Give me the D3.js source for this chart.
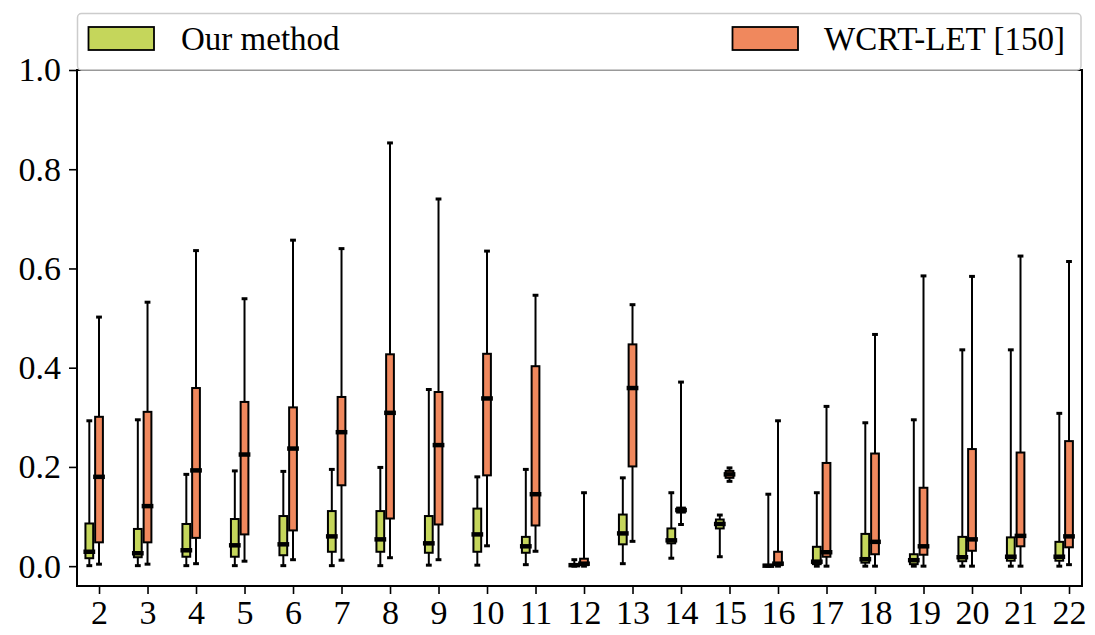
<!DOCTYPE html>
<html>
<head>
<meta charset="utf-8">
<script src="https://cdn.jsdelivr.net/npm/d3@7"></script>
<style>
  html, body { margin: 0; padding: 0; background: #fff; }
  svg { display: block; }
  text { font-family: "Liberation Serif", "DejaVu Serif", serif; fill: #000; }
</style>
</head>
<body>
<svg id="chart" width="1095" height="635"></svg>
<script>
// Number of tasks per chain (x categories)
const categories = [2, 3, 4, 5, 6, 7, 8, 9, 10, 11, 12, 13, 14, 15, 16, 17, 18, 19, 20, 21, 22];

// Our method: whisker low, Q1, median, Q3, whisker high
const oursLow  = [0.001, 0.001, 0.001, 0.001, 0.001, 0.001, 0.001, 0.002, 0.002, 0.003, 0.000, 0.005, 0.016, 0.019, 0.000, 0.000, 0.000, 0.000, 0.000, 0.000, 0.000];
const oursQ1   = [0.016, 0.018, 0.019, 0.019, 0.022, 0.029, 0.029, 0.027, 0.029, 0.027, 0.001, 0.044, 0.046, 0.076, 0.001, 0.004, 0.007, 0.004, 0.010, 0.011, 0.011];
const oursMed  = [0.029, 0.026, 0.032, 0.042, 0.044, 0.060, 0.054, 0.046, 0.064, 0.040, 0.002, 0.066, 0.052, 0.085, 0.001, 0.009, 0.014, 0.012, 0.018, 0.019, 0.019];
const oursQ3   = [0.086, 0.075, 0.085, 0.095, 0.101, 0.111, 0.111, 0.101, 0.116, 0.059, 0.004, 0.104, 0.076, 0.094, 0.002, 0.039, 0.065, 0.024, 0.059, 0.058, 0.049];
const oursHigh = [0.293, 0.295, 0.185, 0.192, 0.191, 0.195, 0.199, 0.356, 0.180, 0.195, 0.013, 0.178, 0.148, 0.103, 0.145, 0.148, 0.289, 0.295, 0.436, 0.436, 0.308];

// WCRT-LET [150]: whisker low, Q1, median, Q3, whisker high
const letLow  = [0.004, 0.004, 0.005, 0.010, 0.013, 0.012, 0.017, 0.013, 0.041, 0.030, 0.000, 0.050, 0.084, 0.171, 0.000, 0.000, 0.000, 0.000, 0.000, 0.000, 0.003];
const letQ1   = [0.048, 0.048, 0.057, 0.064, 0.072, 0.163, 0.096, 0.084, 0.183, 0.082, 0.002, 0.201, 0.108, 0.178, 0.002, 0.019, 0.024, 0.023, 0.031, 0.040, 0.038];
const letMed  = [0.180, 0.121, 0.193, 0.225, 0.237, 0.270, 0.309, 0.244, 0.338, 0.145, 0.005, 0.359, 0.113, 0.185, 0.005, 0.028, 0.049, 0.040, 0.054, 0.061, 0.060];
const letQ3   = [0.301, 0.311, 0.359, 0.331, 0.320, 0.341, 0.427, 0.351, 0.428, 0.403, 0.015, 0.447, 0.118, 0.192, 0.029, 0.208, 0.227, 0.158, 0.236, 0.229, 0.252];
const letHigh = [0.502, 0.532, 0.636, 0.539, 0.657, 0.640, 0.853, 0.740, 0.635, 0.546, 0.148, 0.527, 0.371, 0.198, 0.293, 0.322, 0.467, 0.585, 0.584, 0.625, 0.614];

const yTicks = [0.0, 0.2, 0.4, 0.6, 0.8, 1.0];

const seriesNames = ["Our method", "WCRT-LET [150]"];
const seriesColors = ["#c5d65b", "#f0885d"];

const svg = d3.select("#chart");
const plot = { left: 77, right: 1082, top: 70, bottom: 586 };

const x = d3.scaleLinear().domain([1.546, 22.268]).range([plot.left, plot.right]);
const y = d3.scaleLinear().domain([-0.04, 1.0]).range([plot.bottom, plot.top]);

// Boxes for each series, offset in x-units from the category position
const series = [
  { offset: -0.2, color: seriesColors[0], low: oursLow, q1: oursQ1, med: oursMed, q3: oursQ3, high: oursHigh },
  { offset: 0.0,  color: seriesColors[1], low: letLow,  q1: letQ1,  med: letMed,  q3: letQ3,  high: letHigh }
];
const boxW = 0.16;
const capW = 0.12;

const g = svg.append("g");

series.forEach(s => {
  const rows = categories.map((c, i) => ({
    c, low: s.low[i], q1: s.q1[i], med: s.med[i], q3: s.q3[i], high: s.high[i]
  }));
  const grp = g.append("g");
  const cx = d => x(d.c + s.offset);

  // whiskers
  grp.selectAll(".wlo").data(rows).join("line")
    .attr("x1", cx).attr("x2", cx)
    .attr("y1", d => y(d.low)).attr("y2", d => y(d.q1))
    .attr("stroke", "#000").attr("stroke-width", 2);
  grp.selectAll(".whi").data(rows).join("line")
    .attr("x1", cx).attr("x2", cx)
    .attr("y1", d => y(d.q3)).attr("y2", d => y(d.high))
    .attr("stroke", "#000").attr("stroke-width", 2);

  // caps
  ["low", "high"].forEach(k => {
    grp.selectAll(".cap-" + k).data(rows).join("line")
      .attr("x1", d => x(d.c + s.offset - capW / 2))
      .attr("x2", d => x(d.c + s.offset + capW / 2))
      .attr("y1", d => y(d[k])).attr("y2", d => y(d[k]))
      .attr("stroke", "#000").attr("stroke-width", 3);
  });

  // boxes
  grp.selectAll("rect").data(rows).join("rect")
    .attr("x", d => x(d.c + s.offset - boxW / 2))
    .attr("width", x(boxW) - x(0))
    .attr("y", d => y(d.q3))
    .attr("height", d => Math.max(0, y(d.q1) - y(d.q3)))
    .attr("fill", s.color)
    .attr("stroke", "#000").attr("stroke-width", 2);

  // medians
  grp.selectAll(".med").data(rows).join("line")
    .attr("x1", d => x(d.c + s.offset - boxW / 2) - 2)
    .attr("x2", d => x(d.c + s.offset + boxW / 2) + 2)
    .attr("y1", d => y(d.med)).attr("y2", d => y(d.med))
    .attr("stroke", "#000").attr("stroke-width", 4.5);
});

// axes
const xAxis = d3.axisBottom(x).tickValues(categories).tickFormat(d3.format("d"))
  .tickSizeInner(8).tickSizeOuter(0).tickPadding(6);
const yAxis = d3.axisLeft(y).tickValues(yTicks).tickFormat(d3.format(".1f"))
  .tickSizeInner(8).tickSizeOuter(0).tickPadding(8);

const gx = svg.append("g").attr("transform", `translate(0,${plot.bottom})`).call(xAxis);
const gy = svg.append("g").attr("transform", `translate(${plot.left},0)`).call(yAxis);
[gx, gy].forEach(a => {
  a.select(".domain").remove();
  a.selectAll(".tick line").attr("stroke", "#000").attr("stroke-width", 1.6);
  a.selectAll(".tick text").attr("font-family", "Liberation Serif, serif").attr("font-size", 34).attr("fill", "#000");
});

// frame
svg.append("rect")
  .attr("x", plot.left).attr("y", plot.top)
  .attr("width", plot.right - plot.left).attr("height", plot.bottom - plot.top)
  .attr("fill", "none").attr("stroke", "#000").attr("stroke-width", 2);

// legend across the top
const leg = svg.append("g");
leg.append("rect")
  .attr("x", 77.5).attr("y", 13.5).attr("width", 1003.5).attr("height", 56.5)
  .attr("rx", 4).attr("fill", "#fff").attr("fill-opacity", 0.8)
  .attr("stroke", "#cccccc").attr("stroke-width", 1.5);

const legendItems = [
  { name: seriesNames[0], color: seriesColors[0], px: 88.5, tx: 181 },
  { name: seriesNames[1], color: seriesColors[1], px: 732.5, tx: 824 }
];
legendItems.forEach(it => {
  leg.append("rect").attr("x", it.px).attr("y", 27).attr("width", 65.5).attr("height", 23)
    .attr("fill", it.color).attr("stroke", "#000").attr("stroke-width", 1.8);
  leg.append("text").attr("x", it.tx).attr("y", 50)
    .attr("font-size", 33).text(it.name);
});
</script>
</body>
</html>
